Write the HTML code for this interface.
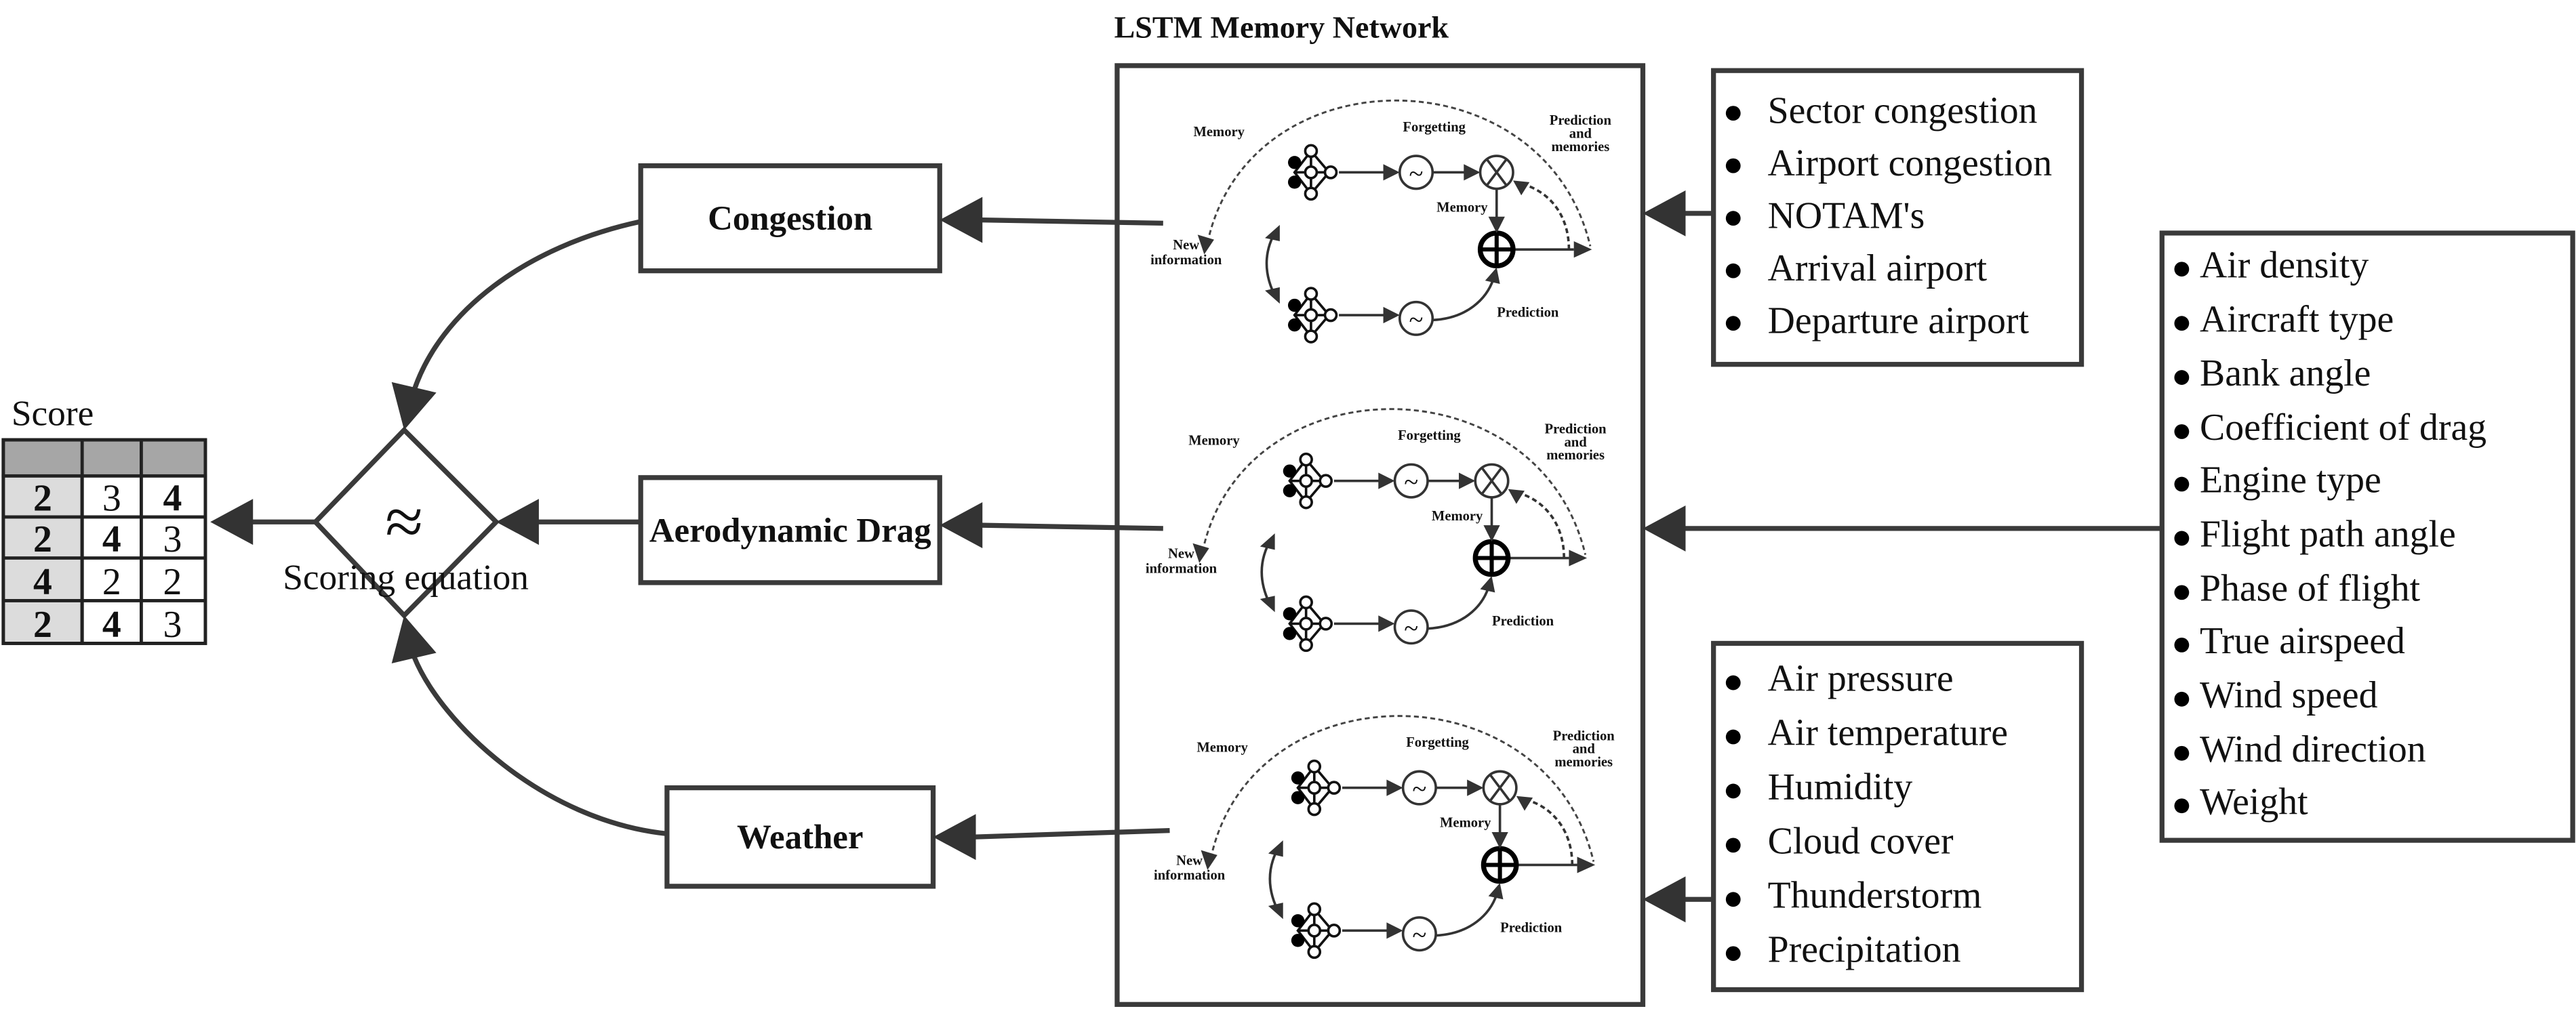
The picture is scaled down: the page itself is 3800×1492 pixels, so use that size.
<!DOCTYPE html>
<html><head><meta charset="utf-8"><style>
html,body{margin:0;padding:0;background:#fff;}
svg{display:block;}
text{font-family:"Liberation Serif",serif;fill:#111;}
.s{font-size:8.5px;font-weight:bold;text-anchor:middle;}
</style></head><body>
<svg width="3800" height="1492" viewBox="0 0 1568 616" preserveAspectRatio="none" xmlns="http://www.w3.org/2000/svg">
<rect width="1568" height="616" fill="#fff"/>
<g stroke="#3a3a3a" stroke-width="3" fill="none">
<rect x="680" y="40" width="320" height="572"/>
<rect x="390" y="101" width="182" height="64" fill="#fff"/>
<rect x="390" y="291" width="182" height="64" fill="#fff"/>
<rect x="406" y="480" width="162" height="60" fill="#fff"/>
<rect x="1043" y="43" width="224" height="179"/>
<rect x="1316" y="142" width="250" height="370"/>
<rect x="1043" y="392" width="224" height="211"/>
<polygon points="246,262 302,318 246,375 192,318"/>
<line x1="192" y1="318" x2="150" y2="318"/>
<line x1="390" y1="318" x2="326" y2="318"/>
<line x1="708" y1="136" x2="596" y2="134"/>
<line x1="708" y1="322" x2="596" y2="320"/>
<line x1="712" y1="506" x2="592" y2="510"/>
<line x1="1043" y1="130" x2="1024" y2="130"/>
<line x1="1316" y1="322" x2="1024" y2="322"/>
<line x1="1043" y1="548" x2="1024" y2="548"/>
<path d="M390,135 C320,150 268,190 252,238"/>
<path d="M406,508 C330,500 268,440 252,400"/>
</g>
<g fill="#333">
<polygon points="128,318 154,304 154,332"/>
<polygon points="302,318 328,304 328,332"/>
<polygon points="572,134 598,120 598,148"/>
<polygon points="572,320 598,306 598,334"/>
<polygon points="568,510 594,496 594,524"/>
<polygon points="1000,130 1026,116 1026,144"/>
<polygon points="1000,322 1026,308 1026,336"/>
<polygon points="1000,548 1026,534 1026,562"/>
<polygon points="246,262 265.6,239.2 238.4,232.8"/>
<polygon points="246,375 265.6,397.8 238.4,404.2"/>
</g>
<g stroke="#222" stroke-width="2">
<rect x="2" y="268" width="123" height="22" fill="#a6a6a6"/>
<rect x="2" y="290" width="48" height="102" fill="#dcdcdc"/>
<rect x="50" y="290" width="75" height="102" fill="#fff"/>
<line x1="50" y1="268" x2="50" y2="392"/>
<line x1="86" y1="268" x2="86" y2="392"/>
<line x1="2" y1="315" x2="125" y2="315"/>
<line x1="2" y1="340" x2="125" y2="340"/>
<line x1="2" y1="366" x2="125" y2="366"/>
<rect x="2" y="268" width="123" height="124" fill="none"/>
</g>
<g font-size="23" text-anchor="middle">
<text x="32" y="259" font-size="22">Score</text>
<text x="26" y="311" font-weight="bold">2</text><text x="68" y="311">3</text><text x="105" y="311" font-weight="bold">4</text>
<text x="26" y="336" font-weight="bold">2</text><text x="68" y="336" font-weight="bold">4</text><text x="105" y="336">3</text>
<text x="26" y="362" font-weight="bold">4</text><text x="68" y="362">2</text><text x="105" y="362">2</text>
<text x="26" y="388" font-weight="bold">2</text><text x="68" y="388" font-weight="bold">4</text><text x="105" y="388">3</text>
</g>
<text x="246" y="332" font-size="42" text-anchor="middle">≈</text>
<text x="247" y="359" font-size="22" text-anchor="middle">Scoring equation</text>
<g font-size="21" font-weight="bold" text-anchor="middle">
<text x="481" y="140">Congestion</text>
<text x="481" y="330">Aerodynamic Drag</text>
<text x="487" y="517">Weather</text>
<text x="780" y="23" font-size="19">LSTM Memory Network</text>
</g>
<g font-size="23">
<g fill="#000"><circle cx="1055" cy="69" r="4.5"/><circle cx="1055" cy="101" r="4.5"/><circle cx="1055" cy="133" r="4.5"/><circle cx="1055" cy="165" r="4.5"/><circle cx="1055" cy="197" r="4.5"/></g>
<text x="1076" y="75">Sector congestion</text>
<text x="1076" y="107">Airport congestion</text>
<text x="1076" y="139">NOTAM's</text>
<text x="1076" y="171">Arrival airport</text>
<text x="1076" y="203">Departure airport</text>
<g fill="#000"><circle cx="1328" cy="164" r="4.5"/><circle cx="1328" cy="197" r="4.5"/><circle cx="1328" cy="230" r="4.5"/><circle cx="1328" cy="263" r="4.5"/><circle cx="1328" cy="295" r="4.5"/><circle cx="1328" cy="328" r="4.5"/><circle cx="1328" cy="361" r="4.5"/><circle cx="1328" cy="393" r="4.5"/><circle cx="1328" cy="426" r="4.5"/><circle cx="1328" cy="459" r="4.5"/><circle cx="1328" cy="491" r="4.5"/></g>
<text x="1339" y="169">Air density</text>
<text x="1339" y="202">Aircraft type</text>
<text x="1339" y="235">Bank angle</text>
<text x="1339" y="268">Coefficient of drag</text>
<text x="1339" y="300">Engine type</text>
<text x="1339" y="333">Flight path angle</text>
<text x="1339" y="366">Phase of flight</text>
<text x="1339" y="398">True airspeed</text>
<text x="1339" y="431">Wind speed</text>
<text x="1339" y="464">Wind direction</text>
<text x="1339" y="496">Weight</text>
<g fill="#000"><circle cx="1055" cy="416" r="4.5"/><circle cx="1055" cy="449" r="4.5"/><circle cx="1055" cy="482" r="4.5"/><circle cx="1055" cy="515" r="4.5"/><circle cx="1055" cy="548" r="4.5"/><circle cx="1055" cy="581" r="4.5"/></g>
<text x="1076" y="421">Air pressure</text>
<text x="1076" y="454">Air temperature</text>
<text x="1076" y="487">Humidity</text>
<text x="1076" y="520">Cloud cover</text>
<text x="1076" y="553">Thunderstorm</text>
<text x="1076" y="586">Precipitation</text>
</g>

<g transform="translate(0,0)">
<path d="M735,148 C760,32 940,32 968,150" stroke="#444" stroke-width="1.2" stroke-dasharray="3,2" fill="none"/>
<polygon points="733,155 729,143 739,146" fill="#333"/>
<text class="s" x="742" y="83">Memory</text>
<text class="s" x="873" y="80">Forgetting</text>
<text class="s" x="962" y="76">Prediction</text><text class="s" x="962" y="84">and</text><text class="s" x="962" y="92">memories</text>
<g stroke="#111" stroke-width="1.5" fill="#fff"><path d="M798,92 L809,105 L798,118 L788,105 Z M788,105 H809 M798,92 V118"/><circle cx="798" cy="92" r="3.5"/><circle cx="798" cy="118" r="3.5"/><circle cx="810" cy="105" r="3.5"/><circle cx="798" cy="105" r="3.5"/></g>
<circle cx="788" cy="99" r="4" fill="#000"/><circle cx="788" cy="111" r="4" fill="#000"/>
<g stroke="#111" stroke-width="1.5" fill="#fff"><path d="M798,179 L809,192 L798,205 L788,192 Z M788,192 H809 M798,179 V205"/><circle cx="798" cy="179" r="3.5"/><circle cx="798" cy="205" r="3.5"/><circle cx="810" cy="192" r="3.5"/><circle cx="798" cy="192" r="3.5"/></g>
<circle cx="788" cy="186" r="4" fill="#000"/><circle cx="788" cy="198" r="4" fill="#000"/>
<g stroke="#333" stroke-width="1.5" fill="none">
<line x1="815" y1="105" x2="843" y2="105"/><line x1="872" y1="105" x2="893" y2="105"/>
<circle cx="862" cy="105" r="10"/><circle cx="911" cy="105" r="10"/>
<line x1="905" y1="97" x2="917" y2="113"/><line x1="917" y1="97" x2="905" y2="113"/>
<line x1="911" y1="115" x2="911" y2="133"/>
<line x1="921" y1="152" x2="958" y2="152"/>
<path d="M955,152 C955,130 942,116 926,112" stroke-dasharray="3,2"/>
<path d="M777,140 Q765,160 777,182"/>
<line x1="815" y1="192" x2="843" y2="192"/>
<circle cx="862" cy="194" r="10"/>
<path d="M872,195 C893,194 905,182 909,170"/>
</g>
<text x="862" y="111" font-size="16" text-anchor="middle">~</text>
<text x="862" y="200" font-size="16" text-anchor="middle">~</text>
<circle cx="911" cy="152" r="10" stroke="#000" stroke-width="3" fill="none"/>
<line x1="901" y1="152" x2="921" y2="152" stroke="#000" stroke-width="2.5"/><line x1="911" y1="142" x2="911" y2="162" stroke="#000" stroke-width="2.5"/>
<g fill="#333">
<polygon points="852,105 842,100 842,110"/><polygon points="901,105 891,100 891,110"/>
<polygon points="911,142 906,132 916,132"/><polygon points="969,152 958,147 958,157"/>
<polygon points="921,110 931,111 926,119"/>
<polygon points="779,137 770,145 779,147"/><polygon points="779,185 770,177 779,175"/>
<polygon points="852,192 842,187 842,197"/><polygon points="911,163 904,171 913,173"/>
</g>
<text class="s" x="890" y="129">Memory</text>
<text class="s" x="722" y="152">New</text><text class="s" x="722" y="161">information</text>
<text class="s" x="930" y="193">Prediction</text>
</g>

<g transform="translate(-3,188)">
<path d="M735,148 C760,32 940,32 968,150" stroke="#444" stroke-width="1.2" stroke-dasharray="3,2" fill="none"/>
<polygon points="733,155 729,143 739,146" fill="#333"/>
<text class="s" x="742" y="83">Memory</text>
<text class="s" x="873" y="80">Forgetting</text>
<text class="s" x="962" y="76">Prediction</text><text class="s" x="962" y="84">and</text><text class="s" x="962" y="92">memories</text>
<g stroke="#111" stroke-width="1.5" fill="#fff"><path d="M798,92 L809,105 L798,118 L788,105 Z M788,105 H809 M798,92 V118"/><circle cx="798" cy="92" r="3.5"/><circle cx="798" cy="118" r="3.5"/><circle cx="810" cy="105" r="3.5"/><circle cx="798" cy="105" r="3.5"/></g>
<circle cx="788" cy="99" r="4" fill="#000"/><circle cx="788" cy="111" r="4" fill="#000"/>
<g stroke="#111" stroke-width="1.5" fill="#fff"><path d="M798,179 L809,192 L798,205 L788,192 Z M788,192 H809 M798,179 V205"/><circle cx="798" cy="179" r="3.5"/><circle cx="798" cy="205" r="3.5"/><circle cx="810" cy="192" r="3.5"/><circle cx="798" cy="192" r="3.5"/></g>
<circle cx="788" cy="186" r="4" fill="#000"/><circle cx="788" cy="198" r="4" fill="#000"/>
<g stroke="#333" stroke-width="1.5" fill="none">
<line x1="815" y1="105" x2="843" y2="105"/><line x1="872" y1="105" x2="893" y2="105"/>
<circle cx="862" cy="105" r="10"/><circle cx="911" cy="105" r="10"/>
<line x1="905" y1="97" x2="917" y2="113"/><line x1="917" y1="97" x2="905" y2="113"/>
<line x1="911" y1="115" x2="911" y2="133"/>
<line x1="921" y1="152" x2="958" y2="152"/>
<path d="M955,152 C955,130 942,116 926,112" stroke-dasharray="3,2"/>
<path d="M777,140 Q765,160 777,182"/>
<line x1="815" y1="192" x2="843" y2="192"/>
<circle cx="862" cy="194" r="10"/>
<path d="M872,195 C893,194 905,182 909,170"/>
</g>
<text x="862" y="111" font-size="16" text-anchor="middle">~</text>
<text x="862" y="200" font-size="16" text-anchor="middle">~</text>
<circle cx="911" cy="152" r="10" stroke="#000" stroke-width="3" fill="none"/>
<line x1="901" y1="152" x2="921" y2="152" stroke="#000" stroke-width="2.5"/><line x1="911" y1="142" x2="911" y2="162" stroke="#000" stroke-width="2.5"/>
<g fill="#333">
<polygon points="852,105 842,100 842,110"/><polygon points="901,105 891,100 891,110"/>
<polygon points="911,142 906,132 916,132"/><polygon points="969,152 958,147 958,157"/>
<polygon points="921,110 931,111 926,119"/>
<polygon points="779,137 770,145 779,147"/><polygon points="779,185 770,177 779,175"/>
<polygon points="852,192 842,187 842,197"/><polygon points="911,163 904,171 913,173"/>
</g>
<text class="s" x="890" y="129">Memory</text>
<text class="s" x="722" y="152">New</text><text class="s" x="722" y="161">information</text>
<text class="s" x="930" y="193">Prediction</text>
</g>

<g transform="translate(2,375)">
<path d="M735,148 C760,32 940,32 968,150" stroke="#444" stroke-width="1.2" stroke-dasharray="3,2" fill="none"/>
<polygon points="733,155 729,143 739,146" fill="#333"/>
<text class="s" x="742" y="83">Memory</text>
<text class="s" x="873" y="80">Forgetting</text>
<text class="s" x="962" y="76">Prediction</text><text class="s" x="962" y="84">and</text><text class="s" x="962" y="92">memories</text>
<g stroke="#111" stroke-width="1.5" fill="#fff"><path d="M798,92 L809,105 L798,118 L788,105 Z M788,105 H809 M798,92 V118"/><circle cx="798" cy="92" r="3.5"/><circle cx="798" cy="118" r="3.5"/><circle cx="810" cy="105" r="3.5"/><circle cx="798" cy="105" r="3.5"/></g>
<circle cx="788" cy="99" r="4" fill="#000"/><circle cx="788" cy="111" r="4" fill="#000"/>
<g stroke="#111" stroke-width="1.5" fill="#fff"><path d="M798,179 L809,192 L798,205 L788,192 Z M788,192 H809 M798,179 V205"/><circle cx="798" cy="179" r="3.5"/><circle cx="798" cy="205" r="3.5"/><circle cx="810" cy="192" r="3.5"/><circle cx="798" cy="192" r="3.5"/></g>
<circle cx="788" cy="186" r="4" fill="#000"/><circle cx="788" cy="198" r="4" fill="#000"/>
<g stroke="#333" stroke-width="1.5" fill="none">
<line x1="815" y1="105" x2="843" y2="105"/><line x1="872" y1="105" x2="893" y2="105"/>
<circle cx="862" cy="105" r="10"/><circle cx="911" cy="105" r="10"/>
<line x1="905" y1="97" x2="917" y2="113"/><line x1="917" y1="97" x2="905" y2="113"/>
<line x1="911" y1="115" x2="911" y2="133"/>
<line x1="921" y1="152" x2="958" y2="152"/>
<path d="M955,152 C955,130 942,116 926,112" stroke-dasharray="3,2"/>
<path d="M777,140 Q765,160 777,182"/>
<line x1="815" y1="192" x2="843" y2="192"/>
<circle cx="862" cy="194" r="10"/>
<path d="M872,195 C893,194 905,182 909,170"/>
</g>
<text x="862" y="111" font-size="16" text-anchor="middle">~</text>
<text x="862" y="200" font-size="16" text-anchor="middle">~</text>
<circle cx="911" cy="152" r="10" stroke="#000" stroke-width="3" fill="none"/>
<line x1="901" y1="152" x2="921" y2="152" stroke="#000" stroke-width="2.5"/><line x1="911" y1="142" x2="911" y2="162" stroke="#000" stroke-width="2.5"/>
<g fill="#333">
<polygon points="852,105 842,100 842,110"/><polygon points="901,105 891,100 891,110"/>
<polygon points="911,142 906,132 916,132"/><polygon points="969,152 958,147 958,157"/>
<polygon points="921,110 931,111 926,119"/>
<polygon points="779,137 770,145 779,147"/><polygon points="779,185 770,177 779,175"/>
<polygon points="852,192 842,187 842,197"/><polygon points="911,163 904,171 913,173"/>
</g>
<text class="s" x="890" y="129">Memory</text>
<text class="s" x="722" y="152">New</text><text class="s" x="722" y="161">information</text>
<text class="s" x="930" y="193">Prediction</text>
</g>
</svg>
</body></html>
